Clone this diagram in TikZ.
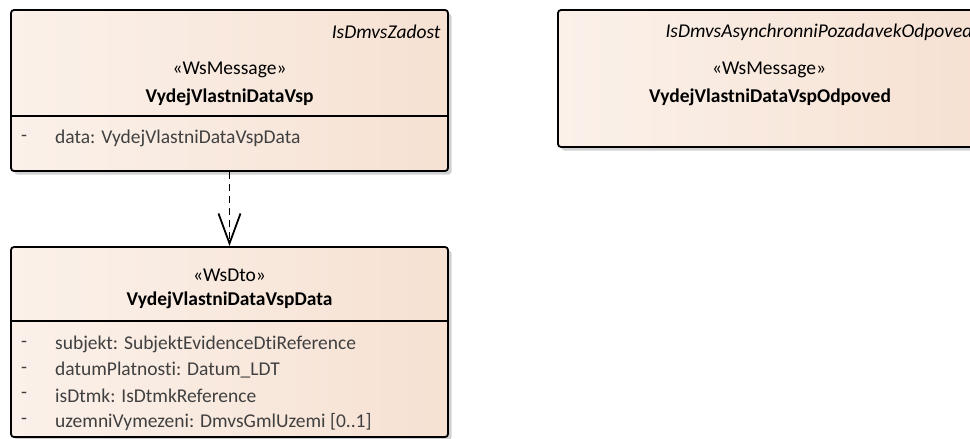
\documentclass[tikz,border=0pt]{standalone}
\usepackage{fontspec}
\setmainfont{Carlito}[Ligatures=NoCommon]
\usetikzlibrary{arrows.meta,shadows}

\definecolor{boxleft}{HTML}{FBF1EA}
\definecolor{boxright}{HTML}{F6E1D2}
\definecolor{attrgray}{HTML}{404040}

\begin{document}
\begin{tikzpicture}[x=1pt,y=-1pt,
	classbox/.style={draw=black,line width=1.8pt,rounded corners=3pt,left color=boxleft,right color=boxright,
		drop shadow={shadow xshift=3.5pt,shadow yshift=-3.5pt,fill=black!18,opacity=1},inner sep=0pt},
	stereo/.style={font=\fontsize{19.5}{22}\selectfont},
	cname/.style={font=\fontsize{19.5}{22}\selectfont\bfseries},
	pkg/.style={font=\fontsize{19.5}{22}\selectfont\itshape},
	attr/.style={font=\fontsize{19.5}{22}\selectfont,text=attrgray,anchor=west,inner sep=0pt},
	dep/.style={line width=1.8pt,dash pattern=on 7pt off 5pt,-{Straight Barb[length=30pt,width=22pt,line width=1.8pt]}}]
			\useasboundingbox (0,0) rectangle (970,439);

			\node[classbox, minimum width=437pt, minimum height=161pt] (request) at (229.5,90.5) {};
			\node[classbox, minimum width=422pt, minimum height=137pt] (response) at (769,78.5) {};
			\node[classbox, minimum width=437pt, minimum height=190pt] (data) at (229.5,342) {};

			\draw[line width=1.8pt] (11,116) -- (448,116);
			\draw[line width=1.8pt] (11,321) -- (448,321);

			\node[pkg, anchor=east] (requestpkg) at (444,32) {IsDmvsZadost};
			\node[stereo] (requeststereo) at (229.5,70) {«WsMessage»};
			\node[cname] (requestname) at (229.5,97) {VydejVlastniDataVsp};
			\node[attr] (requestdash) at (21,138) {-};
			\node[attr] (requestattr) at (55,138) {data: VydejVlastniDataVspData};

			\node[pkg, anchor=west] (responsepkg) at (662,32) {IsDmvsAsynchronniPozadavekOdpoved};
			\node[stereo] (responsestereo) at (769,70) {«WsMessage»};
			\node[cname] (responsename) at (770,97) {VydejVlastniDataVspOdpoved};

			\node[stereo] (datastereo) at (229.5,275) {«WsDto»};
			\node[cname] (dataname) at (229.5,300) {VydejVlastniDataVspData};
			\foreach \i/\txt in {0/{subjekt: SubjektEvidenceDtiReference},1/{datumPlatnosti: Datum\_LDT},2/{isDtmk: IsDtmkReference},3/{uzemniVymezeni: DmvsGmlUzemi [0..1]}}{
				\node[attr] (datadash\i) at (21,344+25.9*\i) {-};
				\node[attr] (dataattr\i) at (55,344+25.9*\i) {\txt};
			}

			\draw[dep] (request.south) -- (data.north);
		\end{tikzpicture}
\end{document}
